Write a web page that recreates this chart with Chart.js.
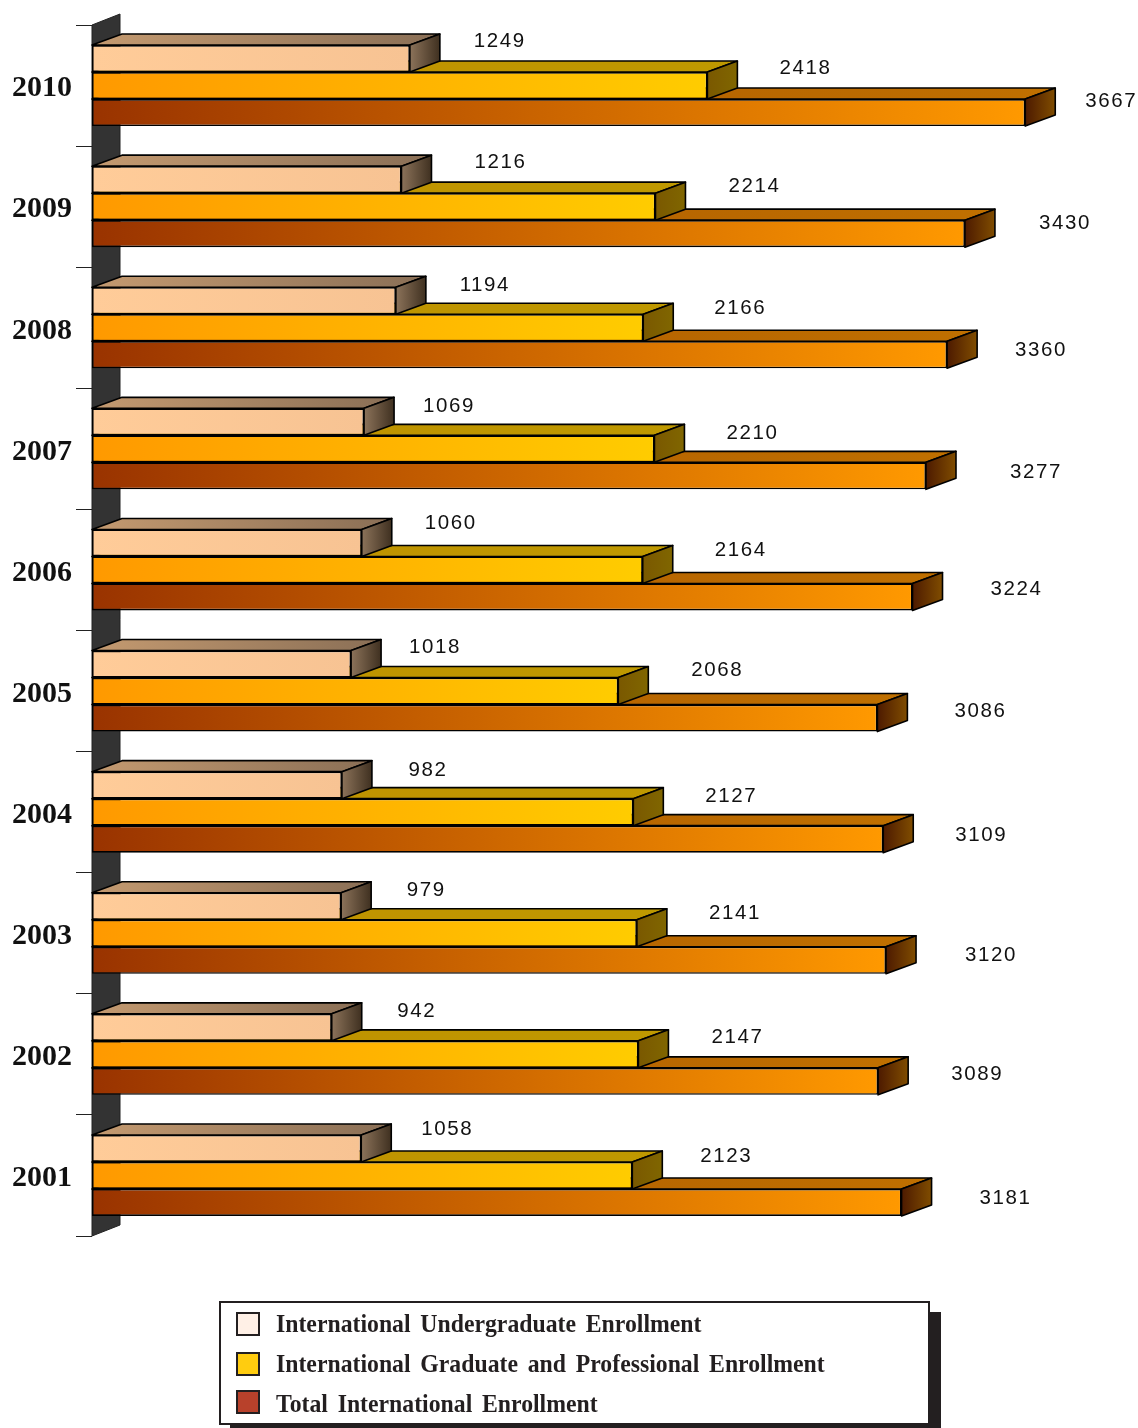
<!DOCTYPE html>
<html>
<head>
<meta charset="utf-8">
<title>International Enrollment</title>
<script src="https://cdn.jsdelivr.net/npm/chart.js@4/dist/chart.umd.min.js"></script>
<style>
    html, body { margin: 0; padding: 0; background: #fff; }
    #wrap { position: relative; width: 1138px; height: 1428px; overflow: hidden; }
    #chart { position: absolute; left: 0; top: 0; }
    #legend {
        position: absolute; left: 219px; top: 1301px; width: 707px; height: 120px;
        background: #fff; border: 2px solid #231f20; box-shadow: 11px 11px 0 #231f20;
    }
    .swatch { position: absolute; left: 15px; width: 20px; height: 20px; border: 2px solid #231f20; }
    .name {
        position: absolute; left: 55px; white-space: nowrap; color: #231f20;
        font: bold 25px/28px "Liberation Serif", serif; word-spacing: 4px;
        transform: scaleX(0.95); transform-origin: left center;
    }
</style>
</head>
<body>
<div id="wrap">
    <canvas id="chart" width="1138" height="1428"></canvas>
    <div id="legend"></div>
</div>
<script>
// Donnees
const years = ['2010', '2009', '2008', '2007', '2006', '2005', '2004', '2003', '2002', '2001'];
const undergraduate = [1249, 1216, 1194, 1069, 1060, 1018, 982, 979, 942, 1058];
const graduate = [2418, 2214, 2166, 2210, 2164, 2068, 2127, 2141, 2147, 2123];
const total = [3667, 3430, 3360, 3277, 3224, 3086, 3109, 3120, 3089, 3181];
const seriesNames = [
    'International Undergraduate Enrollment',
    'International Graduate and Professional Enrollment',
    'Total International Enrollment'
];

// Decalage des etiquettes par rapport au bout de chaque barre
const labelDx = [
    [90, 99, 89, 85, 89, 84, 86, 85, 85, 86],
    [98, 99, 97, 98, 98, 99, 98, 98, 99, 94],
    [86, 100, 94, 110, 104, 103, 98, 105, 99, 104]
];
const labelDy = [
    [-17, -17, -15, -16, -20, -17, -15, -16, -16, -19],
    [-17, -20, -19, -16, -20, -21, -16, -20, -17, -19],
    [-11, -10, -4, -4, -8, -7, -4, -5, -7, -4]
];

// Couleurs : face avant, dessus, cote
const frontColors = [['#ffcc99', '#f7c393'], ['#ff9900', '#ffcc00'], ['#993300', '#ff9900']];
const topColors = [['#c49a70', '#8a6f56'], ['#bf8f00', '#bf9900'], ['#a85400', '#c07000']];
const sideColors = [['#8c735a', '#3f3020'], ['#7a5800', '#806600'], ['#4d1a00', '#804d00']];
const legendColors = ['#fff0e6', '#ffcc0f', '#b8412b'];

const DEPTH_X = 30;
const DEPTH_Y = 11;

function makeGradient(ctx, x0, x1, colors) {
    const g = ctx.createLinearGradient(x0, 0, x1, 0);
    g.addColorStop(0, colors[0]);
    g.addColorStop(1, colors[1]);
    return g;
}

function fillPoly(ctx, pts, fill) {
    ctx.beginPath();
    pts.forEach((p, i) => i ? ctx.lineTo(p[0], p[1]) : ctx.moveTo(p[0], p[1]));
    ctx.closePath();
    ctx.fillStyle = fill;
    ctx.fill();
    ctx.lineWidth = 1.6;
    ctx.strokeStyle = '#000';
    ctx.stroke();
}

// Mur du fond, dessus et cotes des barres, etiquettes
const bars3d = {
    id: 'bars3d',
    beforeDatasetsDraw(chart) {
        const { ctx, chartArea: a } = chart;
        ctx.save();
        ctx.fillStyle = '#333333';
        ctx.strokeStyle = '#222';
        ctx.lineWidth = 1;
        ctx.beginPath();
        ctx.moveTo(a.left, a.top);
        ctx.lineTo(a.left + DEPTH_X - 2, a.top - DEPTH_Y);
        ctx.lineTo(a.left + DEPTH_X - 2, a.bottom - DEPTH_Y);
        ctx.lineTo(a.left, a.bottom);
        ctx.closePath();
        ctx.fill();
        ctx.stroke();
        ctx.restore();
    },
    beforeDatasetDraw(chart, args) {
        const ctx = chart.ctx;
        const i = args.index;
        ctx.save();
        ctx.lineJoin = 'round';
        args.meta.data.forEach(el => {
            const top = el.y - el.height / 2;
            const bottom = el.y + el.height / 2;
            fillPoly(ctx, [
                [el.base, top], [el.x, top],
                [el.x + DEPTH_X, top - DEPTH_Y], [el.base + DEPTH_X, top - DEPTH_Y]
            ], makeGradient(ctx, el.base, el.x + DEPTH_X, topColors[i]));
            fillPoly(ctx, [
                [el.x, top], [el.x + DEPTH_X, top - DEPTH_Y],
                [el.x + DEPTH_X, bottom - DEPTH_Y], [el.x, bottom]
            ], makeGradient(ctx, el.x, el.x + DEPTH_X, sideColors[i]));
        });
        ctx.restore();
    },
    afterDatasetsDraw(chart) {
        const ctx = chart.ctx;
        ctx.save();
        ctx.font = '20.5px "Liberation Sans", Arial, sans-serif';
        ctx.letterSpacing = '1.6px';
        ctx.fillStyle = '#111';
        ctx.textAlign = 'center';
        ctx.textBaseline = 'middle';
        chart.data.datasets.forEach((ds, i) => {
            chart.getDatasetMeta(i).data.forEach((el, j) => {
                ctx.fillText(String(ds.data[j]), el.x + labelDx[i][j], el.y + labelDy[i][j]);
            });
        });
        ctx.restore();
    }
};

function frontGradient(i) {
    return c => {
        const chart = c.chart;
        if (!chart.chartArea || c.parsed === undefined) return frontColors[i][0];
        const x = chart.scales.x;
        return makeGradient(chart.ctx, x.getPixelForValue(0), x.getPixelForValue(c.parsed.x), frontColors[i]);
    };
}

new Chart(document.getElementById('chart'), {
    type: 'bar',
    data: {
        labels: years,
        datasets: [undergraduate, graduate, total].map((values, i) => ({
            label: seriesNames[i],
            data: values,
            backgroundColor: frontGradient(i),
            borderColor: '#000',
            borderWidth: 1.6,
            borderSkipped: false,
            barPercentage: 1,
            categoryPercentage: 0.669
        }))
    },
    options: {
        indexAxis: 'y',
        responsive: false,
        animation: false,
        events: [],
        layout: { padding: { top: 25, bottom: 192, right: 28, left: 0 } },
        plugins: { legend: { display: false }, tooltip: { enabled: false } },
        scales: {
            x: { display: false, min: 0, max: 4000 },
            y: {
                afterFit: s => { s.width = 92; },
                border: { display: false },
                grid: { drawOnChartArea: false, drawTicks: true, tickLength: 16, color: '#222', tickWidth: 1 },
                ticks: {
                    color: '#111',
                    padding: 4,
                    labelOffset: 3,
                    font: { family: '"Liberation Serif", serif', weight: 'bold', size: 30 }
                }
            }
        }
    },
    plugins: [bars3d]
});

// Legende
const legendBox = document.getElementById('legend');
const swatchTops = [9, 49, 87];
const nameTops = [7, 47, 87];
legendBox.innerHTML = seriesNames.map((name, i) => `
    <div class="swatch" style="top:${swatchTops[i]}px;background:${legendColors[i]}"></div>
    <div class="name" style="top:${nameTops[i]}px">${name}</div>
`).join('');
</script>
</body>
</html>
